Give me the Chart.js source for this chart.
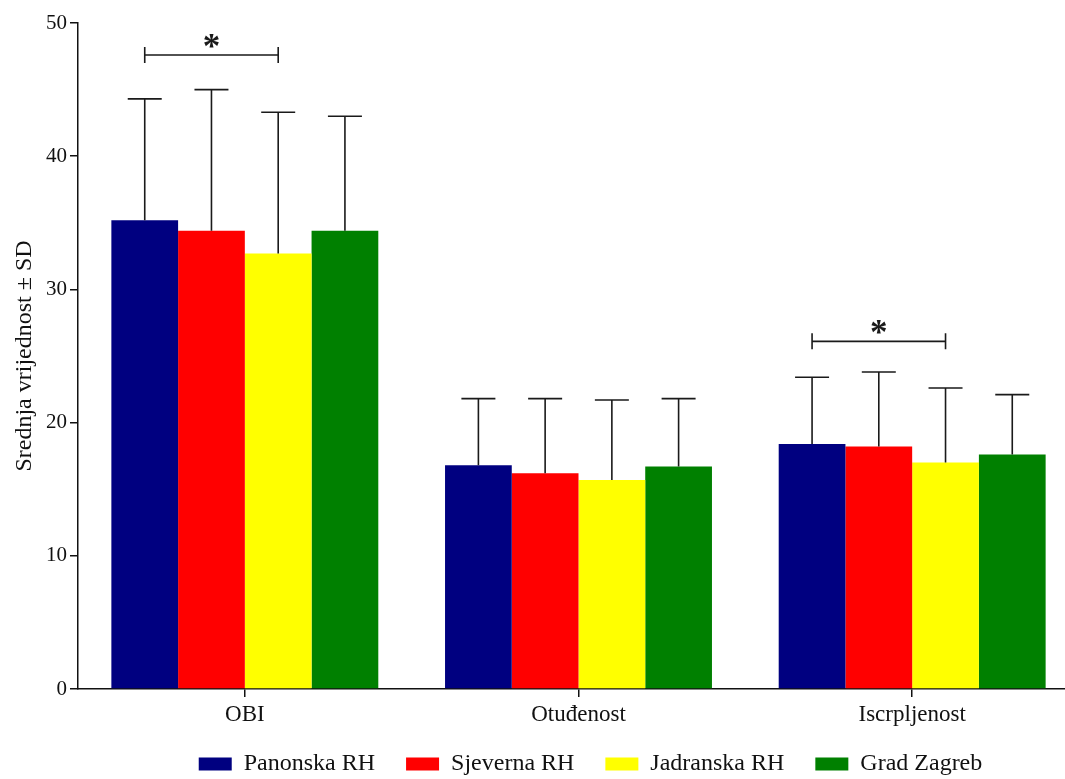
<!DOCTYPE html>
<html lang="hr">
<head>
<meta charset="UTF-8">
<title>Srednja vrijednost ± SD</title>
<script src="https://cdn.jsdelivr.net/npm/chart.js"></script>
<style>
  body { margin: 0; background: #ffffff; overflow: hidden; }
  /* plot runs a little past the right edge, as in the figure */
  #wrap { width: 1079px; height: 779px; position: relative; }
</style>
</head>
<body>
<div id="wrap"><canvas id="chart"></canvas></div>
<script>
// data
const categories = ['OBI', 'Otuđenost', 'Iscrpljenost'];
const regions = ['Panonska RH', 'Sjeverna RH', 'Jadranska RH', 'Grad Zagreb'];
const colours = ['#000080', '#ff0000', '#ffff00', '#008000'];

const panonskaMean = [35.2, 16.8, 18.4];
const sjevernaMean = [34.4, 16.2, 18.2];
const jadranskaMean = [32.7, 15.7, 17.0];
const zagrebMean = [34.4, 16.7, 17.6];

const panonskaSD = [9.1, 5.0, 5.0];
const sjevernaSD = [10.6, 5.6, 5.6];
const jadranskaSD = [10.6, 6.0, 5.6];
const zagrebSD = [8.6, 5.1, 4.5];

const yTicks = [0, 10, 20, 30, 40, 50];

// significance brackets: category index, first and last region index, height
const sigCategory = [0, 2];
const sigFrom = [0, 0];
const sigTo = [2, 2];
const sigLevel = [47.6, 26.1];

const means = [panonskaMean, sjevernaMean, jadranskaMean, zagrebMean];
const sds = [panonskaSD, sjevernaSD, jadranskaSD, zagrebSD];

const FONT = "'Liberation Serif', 'Times New Roman', serif";
const LEGEND_DX = 51;
const LEGEND_TOP = 721;

// upper SD whiskers
const errorBars = {
    id: 'errorBars',
    afterDatasetsDraw(chart) {
        const ctx = chart.ctx;
        const y = chart.scales.y;
        ctx.save();
        ctx.strokeStyle = '#1a1a1a';
        ctx.lineWidth = 1.6;
        chart.data.datasets.forEach((ds, i) => {
            const meta = chart.getDatasetMeta(i);
            meta.data.forEach((bar, j) => {
                const top = y.getPixelForValue(ds.data[j] + sds[i][j]);
                ctx.beginPath();
                ctx.moveTo(bar.x, bar.y);
                ctx.lineTo(bar.x, top);
                ctx.moveTo(bar.x - 17, top);
                ctx.lineTo(bar.x + 17, top);
                ctx.stroke();
            });
        });
        ctx.restore();
    }
};

// "*" brackets
const sigBrackets = {
    id: 'sigBrackets',
    afterDatasetsDraw(chart) {
        const ctx = chart.ctx;
        const y = chart.scales.y;
        ctx.save();
        ctx.strokeStyle = '#1a1a1a';
        ctx.fillStyle = '#1a1a1a';
        ctx.lineWidth = 1.6;
        sigCategory.forEach((c, k) => {
            const x1 = chart.getDatasetMeta(sigFrom[k]).data[c].x;
            const x2 = chart.getDatasetMeta(sigTo[k]).data[c].x;
            const py = y.getPixelForValue(sigLevel[k]);
            ctx.beginPath();
            ctx.moveTo(x1, py);
            ctx.lineTo(x2, py);
            ctx.moveTo(x1, py - 8);
            ctx.lineTo(x1, py + 8);
            ctx.moveTo(x2, py - 8);
            ctx.lineTo(x2, py + 8);
            ctx.stroke();
            ctx.font = 'bold 35px ' + FONT;
            ctx.textAlign = 'center';
            ctx.textBaseline = 'alphabetic';
            ctx.fillText('*', (x1 + x2) / 2, py + 3);
        });
        ctx.restore();
    }
};

// move the legend to where it sits in the figure
const legendPlace = {
    id: 'legendPlace',
    afterLayout(chart) {
        const lg = chart.legend;
        const h = lg.bottom - lg.top;
        lg.left += LEGEND_DX;
        lg.right += LEGEND_DX;
        lg.top = LEGEND_TOP;
        lg.bottom = LEGEND_TOP + h;
    }
};

new Chart(document.getElementById('chart'), {
    type: 'bar',
    data: {
        labels: categories,
        datasets: regions.map((r, i) => ({
            label: r,
            data: means[i],
            backgroundColor: colours[i],
            borderWidth: 0,
            barPercentage: 1.0,
            categoryPercentage: 0.8
        }))
    },
    options: {
        responsive: true,
        maintainAspectRatio: false,
        animation: false,
        layout: { padding: { top: 23, right: 0, bottom: -20, left: 0 } },
        plugins: {
            tooltip: { enabled: false },
            legend: {
                position: 'bottom',
                labels: {
                    font: { family: FONT, size: 24 },
                    color: '#111',
                    boxWidth: 33,
                    boxHeight: 13,
                    padding: 31
                }
            }
        },
        scales: {
            x: {
                afterFit(scale) { scale.height = 45; },
                grid: { offset: false, drawOnChartArea: false, tickLength: 8, color: '#111', lineWidth: 1.5 },
                border: { color: '#111', width: 1.5 },
                ticks: { font: { family: FONT, size: 23 }, color: '#111', padding: 4 }
            },
            y: {
                min: 0,
                max: 50,
                afterFit(scale) { scale.width = 78; },
                afterBuildTicks(scale) { scale.ticks = yTicks.map(v => ({ value: v })); },
                grid: { drawOnChartArea: false, tickLength: 8, color: '#111', lineWidth: 1.5 },
                border: { color: '#111', width: 1.5 },
                ticks: { font: { family: FONT, size: 21 }, color: '#111', padding: 3 },
                title: {
                    display: true,
                    text: 'Srednja vrijednost ± SD',
                    font: { family: FONT, size: 24 },
                    color: '#111',
                    padding: { top: 10, bottom: 0 }
                }
            }
        }
    },
    plugins: [errorBars, sigBrackets, legendPlace]
});
</script>
</body>
</html>
